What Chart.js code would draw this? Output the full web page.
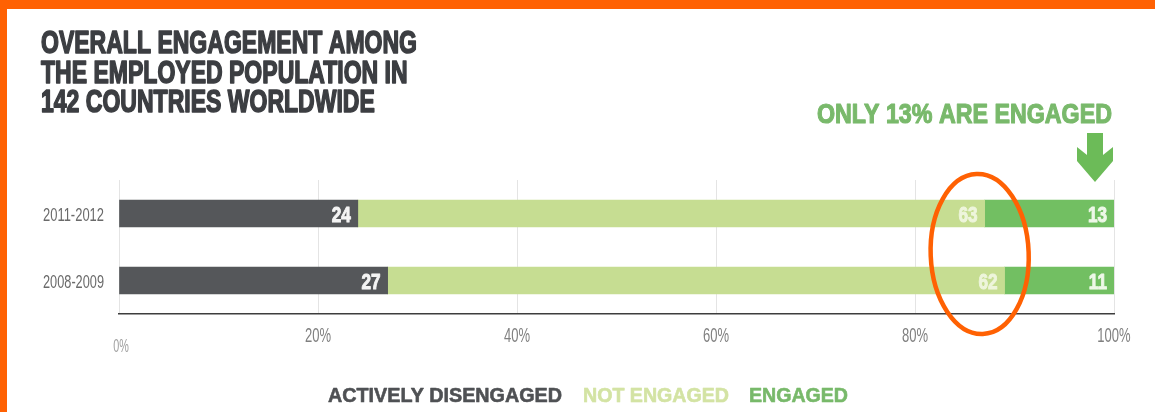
<!DOCTYPE html>
<html>
<head>
<meta charset="utf-8">
<script src="https://cdn.jsdelivr.net/npm/chart.js@4.4.0/dist/chart.umd.min.js"></script>
<style>
  html, body { margin: 0; padding: 0; background: #fff; }
  canvas { display: block; }
</style>
</head>
<body>
<canvas id="chart" width="1155" height="412"></canvas>
<script>
// 各期間的敬業度分布（%）
const periods = ['2011-2012', '2008-2009']
const activelyDisengaged = [24, 27]
const notEngaged = [63, 62]
const engaged = [13, 11]
const xTicks = [0, 20, 40, 60, 80, 100]
const titleLines = ['OVERALL ENGAGEMENT AMONG', 'THE EMPLOYED POPULATION IN', '142 COUNTRIES WORLDWIDE']
const legendItems = [
  ['ACTIVELY DISENGAGED', '#4f5154'],
  ['NOT ENGAGED', '#d3e3a3'],
  ['ENGAGED', '#78b96a'],
]

const ORANGE = '#ff6103'
const DARK = '#55575a'
const LIGHT_GREEN = '#c6dd92'
const GREEN = '#72bf62'
const FONT = '"Liberation Sans", Arial, sans-serif'

// 畫「窄體」字：用 scaleX 壓扁，stroke 讓字更粗
function narrowText(ctx, text, x, y, opts) {
  const { size, weight = 'bold', color, sx = 0.75, width, align = 'left', family = FONT, stroke = 0 } = opts
  ctx.save()
  ctx.font = `${weight} ${size}px ${family}`
  const w = ctx.measureText(text).width
  const s = width ? width / w : sx
  let left = x
  if (align === 'right') left = x - w * s
  else if (align === 'center') left = x - w * s / 2
  ctx.translate(left, y)
  ctx.scale(s, 1)
  ctx.fillStyle = color
  ctx.textBaseline = 'alphabetic'
  ctx.textAlign = 'left'
  ctx.fillText(text, 0, 0)
  if (stroke) {
    ctx.strokeStyle = color
    ctx.lineWidth = stroke
    ctx.lineJoin = 'round'
    ctx.strokeText(text, 0, 0)
  }
  ctx.restore()
  return w * s
}

const decor = {
  id: 'decor',
  beforeDraw(chart) {
    const ctx = chart.ctx
    ctx.save()
    ctx.fillStyle = '#fff'
    ctx.fillRect(0, 0, chart.width, chart.height)
    ctx.fillStyle = ORANGE
    ctx.fillRect(0, 0, chart.width, 9)
    ctx.fillRect(0, 0, 7, chart.height)
    ctx.restore()
  },
  afterDraw(chart) {
    const ctx = chart.ctx
    const xs = chart.scales.x
    const ys = chart.scales.y

    // 標題
    ctx.save()
    ctx.font = `bold 31px ${FONT}`
    const titleScale = 376 / ctx.measureText(titleLines[0]).width
    ctx.restore()
    titleLines.forEach((line, i) => {
      narrowText(ctx, line, 41, 53 + i * 29.5, { size: 31, color: '#3c3e42', sx: titleScale, stroke: 1.6 })
    })

    // 長條上的數字
    const labelColors = ['#f4f4f4', '#eef5dc', '#eef8e8']
    chart.data.datasets.forEach((ds, di) => {
      const meta = chart.getDatasetMeta(di)
      meta.data.forEach((bar, j) => {
        narrowText(ctx, String(ds.data[j]), bar.x - 7, bar.y + 8.5, {
          size: 22, color: labelColors[di], sx: 0.78, align: 'right', stroke: 1,
        })
      })
    })

    // x 軸刻度文字
    xTicks.forEach(v => {
      const px = xs.getPixelForValue(v)
      if (v === 0) {
        narrowText(ctx, '0%', px + 2, 352, { size: 18, weight: 'normal', color: '#a0a0a0', sx: 0.6, align: 'center' })
      } else {
        narrowText(ctx, `${v}%`, px, 342, { size: 21, weight: 'normal', color: '#808080', sx: 0.62, align: 'center' })
      }
    })

    // y 軸類別文字
    periods.forEach((p, i) => {
      const py = ys.getPixelForValue(i)
      narrowText(ctx, p, 104, py + 7, { size: 19, weight: 'normal', color: '#6a6a6a', width: 61, align: 'right' })
    })

    // 右上標註與箭頭
    narrowText(ctx, 'ONLY 13% ARE ENGAGED', 1112, 123, { size: 28, color: '#79b96b', width: 295, align: 'right', stroke: 1.2 })
    const ax = 1095
    ctx.save()
    ctx.fillStyle = '#6cbb58'
    ctx.beginPath()
    ctx.moveTo(ax - 8, 133)
    ctx.lineTo(ax + 8, 133)
    ctx.lineTo(ax + 8, 155)
    ctx.lineTo(ax + 18, 147)
    ctx.lineTo(ax + 18, 161)
    ctx.lineTo(ax, 182)
    ctx.lineTo(ax - 18, 161)
    ctx.lineTo(ax - 18, 147)
    ctx.lineTo(ax - 8, 155)
    ctx.closePath()
    ctx.fill()
    ctx.restore()

    // 橘色圈
    ctx.save()
    ctx.strokeStyle = ORANGE
    ctx.lineWidth = 4.5
    ctx.beginPath()
    ctx.ellipse(xs.getPixelForValue(86.5), 254, 49, 80, -0.04, 0, Math.PI * 2)
    ctx.stroke()
    ctx.restore()

    // 圖例
    const legendX = [328, 583, 749]
    const legendW = [234, 146, 99]
    legendItems.forEach(([text, color], i) => {
      narrowText(ctx, text, legendX[i], 402, { size: 20, color, width: legendW[i], stroke: 0.6 })
    })
  },
}

new Chart(document.getElementById('chart'), {
  type: 'bar',
  data: {
    labels: periods,
    datasets: [
      { label: 'ACTIVELY DISENGAGED', data: activelyDisengaged, backgroundColor: DARK },
      { label: 'NOT ENGAGED', data: notEngaged, backgroundColor: LIGHT_GREEN },
      { label: 'ENGAGED', data: engaged, backgroundColor: GREEN },
    ],
  },
  options: {
    indexAxis: 'y',
    responsive: false,
    devicePixelRatio: 1,
    animation: false,
    barThickness: 27,
    layout: { padding: { left: 119, right: 41, top: 180, bottom: 98 } },
    scales: {
      x: {
        stacked: true,
        min: 0,
        max: 100,
        ticks: { display: false, stepSize: 20 },
        grid: { color: '#e4e4e4', lineWidth: 1, drawTicks: false },
        border: { display: true, color: '#3d3d3d', width: 1.5 },
      },
      y: {
        stacked: true,
        display: false,
      },
    },
    plugins: {
      legend: { display: false },
      tooltip: { enabled: false },
    },
  },
  plugins: [decor],
})
</script>
</body>
</html>
